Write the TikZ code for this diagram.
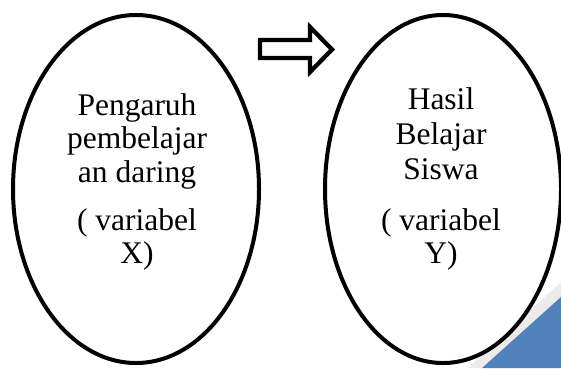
\documentclass[tikz,border=0pt]{standalone}
\usepackage{fontspec}
\setmainfont{Liberation Serif}
\usetikzlibrary{shapes.geometric}
\definecolor{accentblue}{HTML}{4F81BD}
\definecolor{shadowgray}{HTML}{EBEBEB}
\tikzset{
  oval/.style={ellipse, draw=black, line width=4pt, fill=white, inner sep=0pt},
  para/.style={align=center, inner sep=0pt, anchor=north, font=\fontsize{31.5}{33.5}\selectfont},
  hollowarrow/.style={draw=black, line width=4.3pt, fill=white, line join=miter},
}
\begin{document}
\begin{tikzpicture}[x=1pt, y=-1pt]
  \useasboundingbox (0,0) rectangle (561,368);
  % corner decoration
  \fill[shadowgray] (468,368) -- (561,282) -- (561,297) -- (482,368) -- cycle;
  \fill[accentblue] (482,368) -- (561,297) -- (561,368) -- cycle;
  % the two variables
  \node[oval, minimum width=246pt, minimum height=348pt] (x) at (136,189) {};
  \node[oval, minimum width=236pt, minimum height=348pt] (y) at (443,189) {};
  \node[para] (xa) at (137,93) {Pengaruh\\pembelajar\\an daring};
  \node[para] (xb) at (137,208) {( variabel\\X)};
  \node[para, font=\fontsize{31.5}{35}\selectfont] (ya) at (441,87.5) {Hasil\\Belajar\\Siswa};
  \node[para] (yb) at (441,208) {( variabel\\Y)};
  % block arrow between them
  \draw[hollowarrow] (260,40) -- (310,40) -- (310,27) -- (332,49.5)
    -- (310,72) -- (310,58) -- (260,58) -- cycle;
\end{tikzpicture}
\end{document}
